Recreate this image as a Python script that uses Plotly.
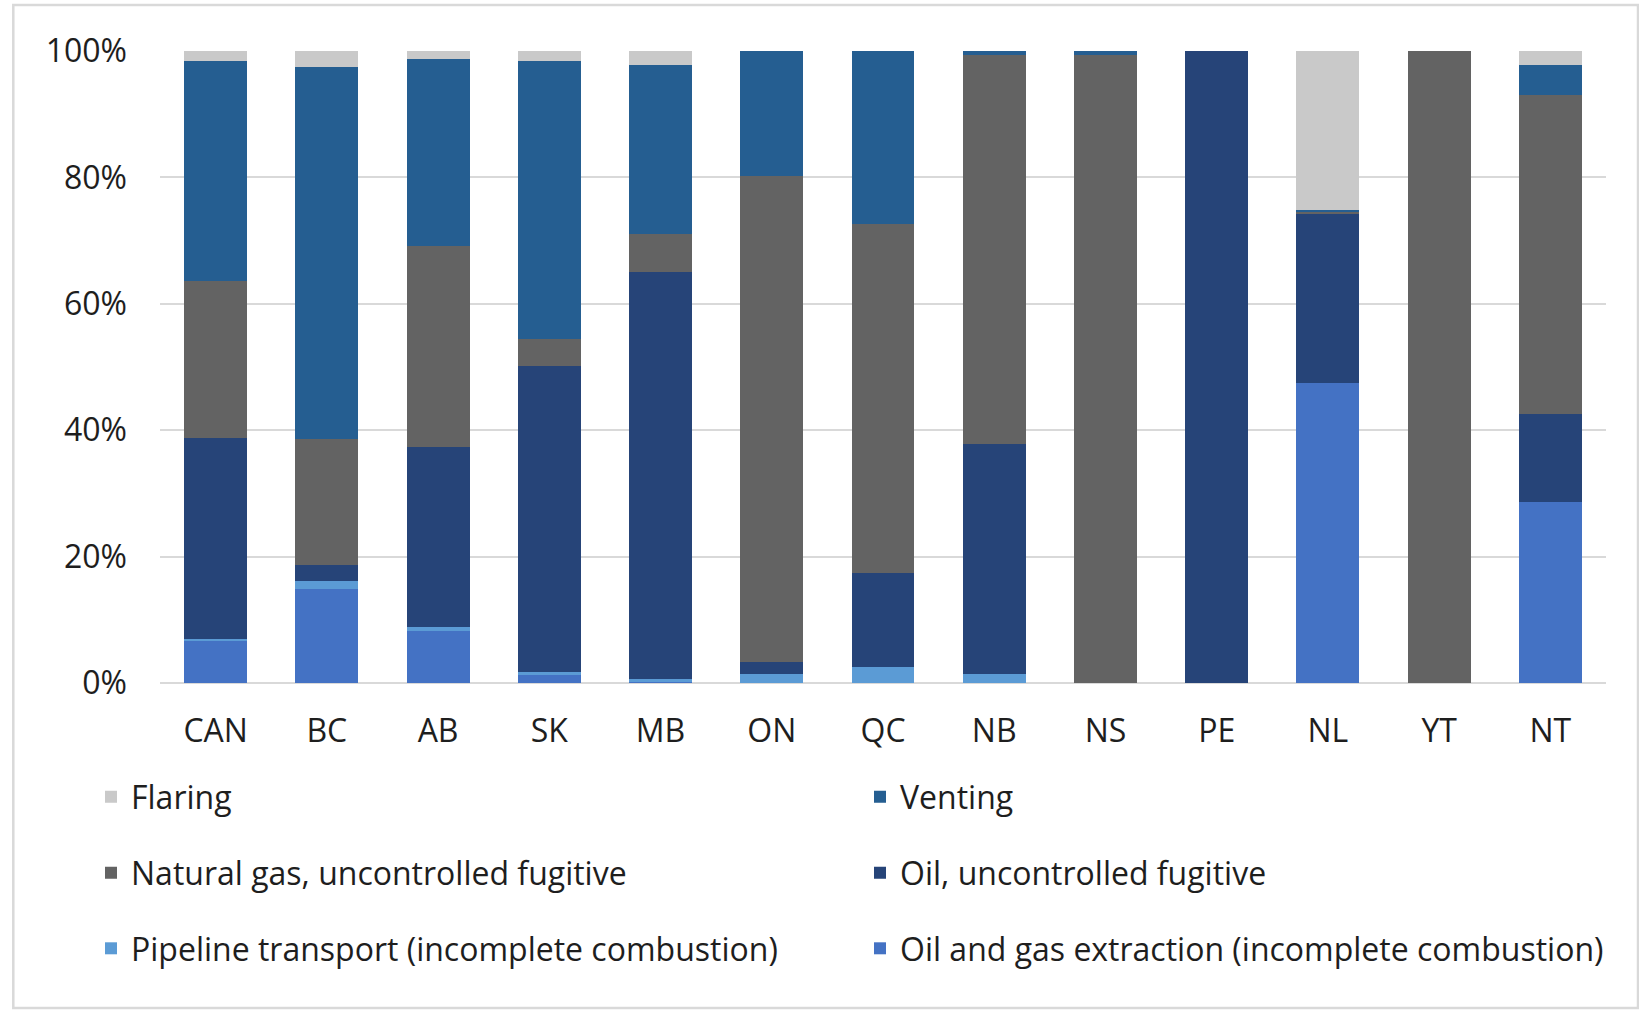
import plotly.graph_objects as go

categories = ["CAN", "BC", "AB", "SK", "MB", "ON", "QC", "NB", "NS", "PE", "NL", "YT", "NT"]

extraction = [6.7, 14.9, 8.3, 1.4, 0.1, 0.0, 0.0, 0.0, 0.0, 0.0, 47.5, 0.0, 28.6]
pipeline = [0.3, 1.2, 0.6, 0.3, 0.6, 1.4, 2.6, 1.4, 0.0, 0.0, 0.0, 0.0, 0.0]
oil_fugitive = [31.7, 2.5, 28.5, 48.4, 64.4, 1.9, 14.8, 36.4, 0.0, 100.0, 26.8, 0.0, 13.9]
gas_fugitive = [24.9, 20.0, 31.8, 4.3, 6.0, 76.9, 55.3, 61.6, 99.4, 0.0, 0.3, 100.0, 50.6]
venting = [34.8, 58.9, 29.6, 44.0, 26.7, 19.8, 27.3, 0.6, 0.6, 0.0, 0.3, 0.0, 4.75]
flaring = [1.6, 2.5, 1.2, 1.6, 2.2, 0.0, 0.0, 0.0, 0.0, 0.0, 25.1, 0.0, 2.15]

y_tick_values = [0, 20, 40, 60, 80, 100]
y_tick_labels = ["0%", "20%", "40%", "60%", "80%", "100%"]

series = [
    ("Oil and gas extraction (incomplete combustion)", extraction, "#4472C4", "legend3"),
    ("Pipeline transport (incomplete combustion)", pipeline, "#5B9BD5", "legend3"),
    ("Oil, uncontrolled fugitive", oil_fugitive, "#264478", "legend2"),
    ("Natural gas, uncontrolled fugitive", gas_fugitive, "#636363", "legend2"),
    ("Venting", venting, "#255E91", "legend"),
    ("Flaring", flaring, "#C9C9C9", "legend"),
]

FONT = "Open Sans"
FS = 32
TXT = "#1e1e1e"

fig = go.Figure()
for name, vals, color, lg in series:
    fig.add_trace(go.Bar(
        x=categories, y=vals, name=name,
        marker=dict(color=color, line=dict(width=0)),
        legend=lg, hoverinfo="skip",
    ))

L, R, T, B = 160, 33, 51, 327
W, H = 1639, 1010
pw, ph = W - L - R, H - T - B

def px_to_paper_x(px):
    return (px - L) / pw

def py_to_paper_y(py):
    return ((H - B) - py) / ph

legend_common = dict(
    orientation="h", xref="paper", yref="paper",
    xanchor="left", yanchor="middle", traceorder="reversed",
    entrywidth=724, entrywidthmode="pixels",
    font=dict(family=FONT, size=FS, color=TXT),
    bgcolor="rgba(0,0,0,0)", borderwidth=0,
)

lx = px_to_paper_x(91)

fig.update_layout(
    width=W, height=H,
    margin=dict(l=L, r=R, t=T, b=B, pad=0),
    barmode="stack", bargap=0.434,
    plot_bgcolor="white", paper_bgcolor="white",
    font=dict(family=FONT, size=FS, color=TXT),
    xaxis=dict(
        showgrid=False, showline=False, zeroline=False, ticks="",
        ticklabelstandoff=26,
        tickfont=dict(family=FONT, size=FS, color=TXT),
    ),
    yaxis=dict(
        range=[0, 100], tickmode="array",
        tickvals=y_tick_values, ticktext=y_tick_labels,
        showgrid=True, gridcolor="#D9D9D9", gridwidth=2,
        zeroline=True, zerolinecolor="#D9D9D9", zerolinewidth=2,
        showline=False, ticks="", ticklabelstandoff=32,
        tickfont=dict(family=FONT, size=FS, color=TXT),
    ),
    legend=dict(legend_common, x=lx, y=py_to_paper_y(797)),
    legend2=dict(legend_common, x=lx, y=py_to_paper_y(873)),
    legend3=dict(legend_common, x=lx, y=py_to_paper_y(948.5)),
    showlegend=True,
)

# outer chart-area border
fig.add_shape(
    type="rect", xref="paper", yref="paper", layer="above",
    x0=px_to_paper_x(13.3), x1=px_to_paper_x(1638),
    y0=py_to_paper_y(1008), y1=py_to_paper_y(5),
    line=dict(color="#D9D9D9", width=2.5), fillcolor="rgba(0,0,0,0)",
)

fig.write_html("out.html")
